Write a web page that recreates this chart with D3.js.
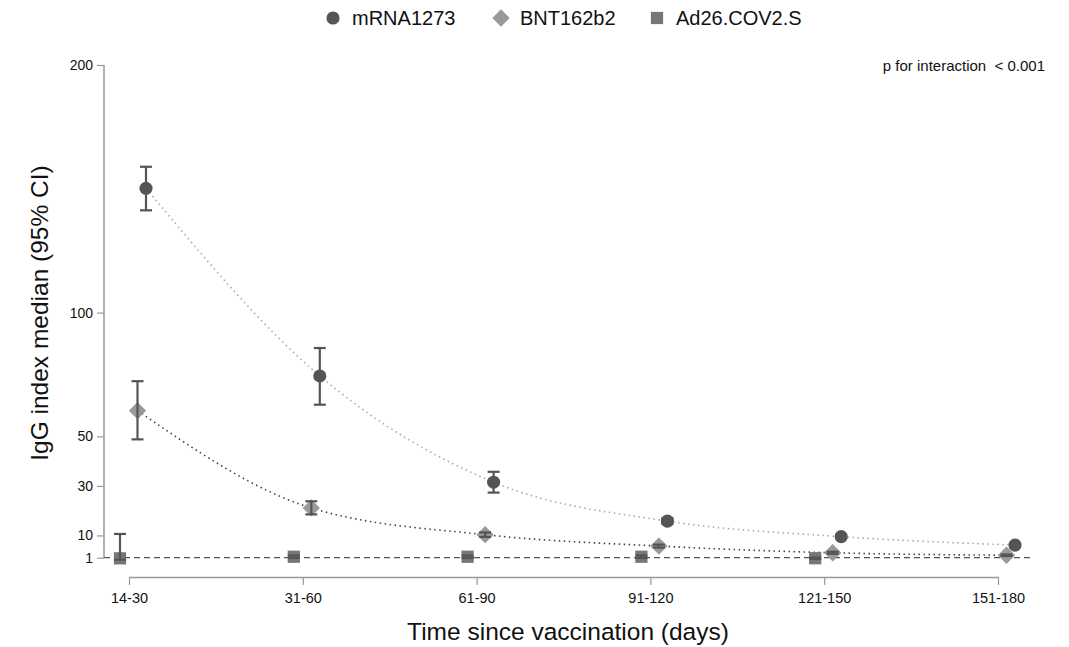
<!DOCTYPE html>
<html><head><meta charset="utf-8">
<script src="https://cdn.jsdelivr.net/npm/d3@7"></script>
<style>body{margin:0;background:#fff;}svg{display:block;font-family:"Liberation Sans",Arial,sans-serif;}</style>
</head><body><svg id="c" width="1069" height="647"></svg>
<script>
const categories = ["14-30","31-60","61-90","91-120","121-150","151-180"];
const yTicks = [1,10,30,50,100,200];
const mRNA_median = [150.2,74.4,31.5,15.8,9.5,6.1];
const mRNA_lo = [141.3,62.8,27.3,14.6,8.8,5.6];
const mRNA_hi = [158.9,85.7,35.7,17.0,10.2,6.6];
const BNT_median = [60.4,21.1,10.3,5.7,3.0,2.0];
const BNT_lo = [48.8,18.5,9.4,5.1,2.6,1.7];
const BNT_hi = [72.3,23.8,11.2,6.3,3.4,2.3];
const Ad26_cats = ["14-30","31-60","61-90","91-120","121-150"];
const Ad26_median = [0.75,1.4,1.4,1.4,0.8];
const Ad26_lo = [0.2,0.9,0.9,0.9,0.5];
const Ad26_hi = [10.6,1.9,1.9,1.9,1.1];

const svg = d3.select("#c");
const x = d3.scalePoint().domain(categories).range([129,998]);
const y = d3.scaleLinear().domain([0,200]).range([560.2,65]);

// y axis
const yAxis = svg.append("g").attr("transform","translate(104,0)")
  .call(d3.axisLeft(y).tickValues(yTicks).tickSize(7).tickPadding(4).tickSizeOuter(0));
yAxis.select(".domain").attr("d",`M0,${y(200)}V${y(1)}`).attr("stroke","#999").attr("stroke-width",1.5);
yAxis.selectAll(".tick line").attr("stroke","#999").attr("stroke-width",1.2);
yAxis.selectAll(".tick text").attr("font-size",14).attr("fill","#111");

// x axis
const xAxis = svg.append("g").attr("transform","translate(0,577)")
  .call(d3.axisBottom(x).tickSize(8).tickPadding(8).tickSizeOuter(0));
xAxis.select(".domain").attr("stroke","#999").attr("stroke-width",1.5);
xAxis.selectAll(".tick line").attr("stroke","#999").attr("stroke-width",1.2);
xAxis.selectAll(".tick text").attr("font-size",14.5).attr("fill","#111");

// reference line at 1
svg.append("line").attr("x1",104).attr("x2",1033).attr("y1",y(1)).attr("y2",y(1))
  .attr("stroke","#555").attr("stroke-width",1.3).attr("stroke-dasharray","6,4");

const series = [
  {name:"mRNA1273", cats:categories, med:mRNA_median, lo:mRNA_lo, hi:mRNA_hi, off:17, shape:d3.symbolCircle, size:135, rot:0, fill:"#555", line:"#aaa", dash:"1.5,3.5"},
  {name:"BNT162b2", cats:categories, med:BNT_median, lo:BNT_lo, hi:BNT_hi, off:8.5, shape:d3.symbolSquare, size:150, rot:45, fill:"#999", line:"#444", dash:"1.5,3.5"},
  {name:"Ad26.COV2.S", cats:Ad26_cats, med:Ad26_median, lo:Ad26_lo, hi:Ad26_hi, off:-9, shape:d3.symbolSquare, size:150, rot:0, fill:"#777", line:null}
];

series.forEach(s=>{
  const pts = s.cats.map((c,i)=>({x:x(c)+s.off, m:s.med[i], lo:s.lo[i], hi:s.hi[i]}));
  if(s.line){
    svg.append("path").datum(pts)
      .attr("d", d3.line().x(d=>d.x).y(d=>y(d.m)).curve(d3.curveMonotoneX))
      .attr("fill","none").attr("stroke",s.line).attr("stroke-width",1.6).attr("stroke-dasharray",s.dash);
  }
  const g = svg.append("g");
  g.selectAll("path.sym").data(pts).join("path").attr("class","sym")
    .attr("transform",d=>`translate(${d.x},${y(d.m)}) rotate(${s.rot})`)
    .attr("d", d3.symbol().type(s.shape).size(s.size)).attr("fill",s.fill);
  const eb = svg.append("g").attr("stroke","#555").attr("stroke-width",2.2);
  pts.forEach(d=>{
    eb.append("line").attr("x1",d.x).attr("x2",d.x).attr("y1",y(d.lo)).attr("y2",y(d.hi));
    eb.append("line").attr("x1",d.x-6).attr("x2",d.x+6).attr("y1",y(d.lo)).attr("y2",y(d.lo));
    eb.append("line").attr("x1",d.x-6).attr("x2",d.x+6).attr("y1",y(d.hi)).attr("y2",y(d.hi));
  });
});

// legend
const legX = [333, 501, 657];
series.forEach((s,i)=>{
  svg.append("path").attr("transform",`translate(${legX[i]},18) rotate(${s.rot})`)
    .attr("d", d3.symbol().type(s.shape).size(s.size)).attr("fill",s.fill);
  svg.append("text").attr("x",legX[i]+19).attr("y",25).attr("font-size",20).attr("fill","#111").text(s.name);
});

svg.append("text").attr("x",1045).attr("y",71).attr("text-anchor","end").attr("font-size",15).attr("fill","#111")
  .attr("xml:space","preserve").text("p for interaction  < 0.001");

svg.append("text").attr("x",568).attr("y",640).attr("text-anchor","middle").attr("font-size",24.5).attr("fill","#111")
  .text("Time since vaccination (days)");
svg.append("text").attr("transform","translate(48,313) rotate(-90)").attr("text-anchor","middle").attr("font-size",24.5).attr("fill","#111")
  .text("IgG index median (95% CI)");
</script></body></html>
